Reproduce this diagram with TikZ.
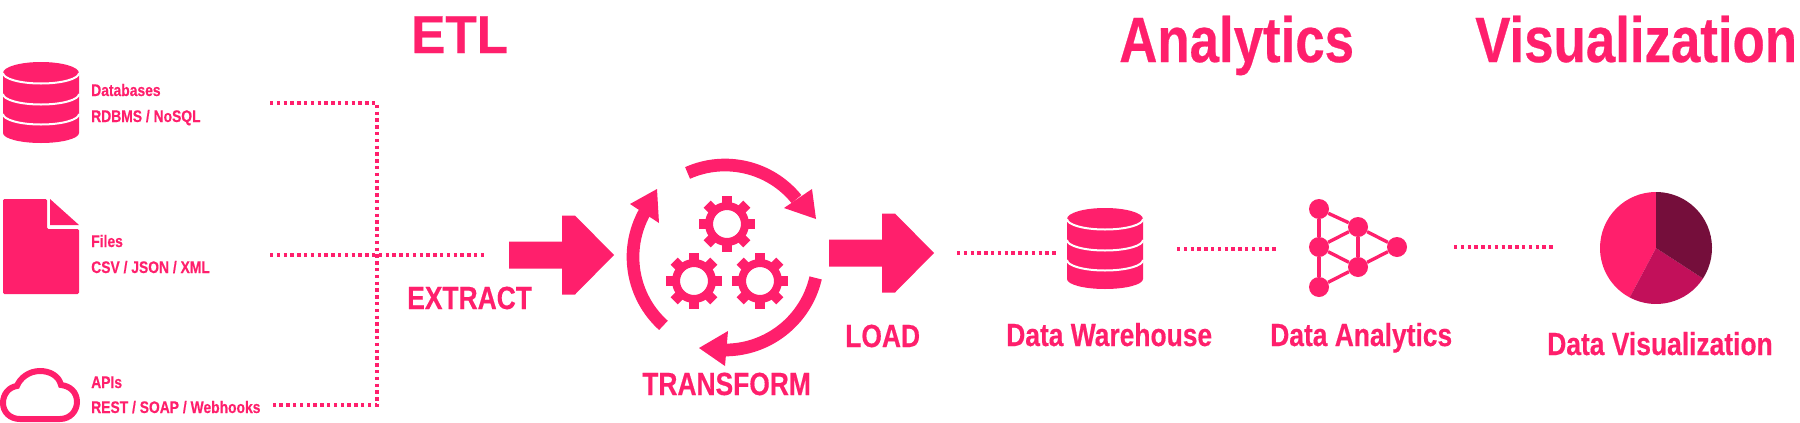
\documentclass[tikz,border=0pt]{standalone}
\usepackage{fontspec}
\newfontfamily\narrowfont[FakeStretch=0.825,BoldFeatures={FakeBold=0.4}]{Liberation Sans}
\newfontfamily\plainfont[FakeStretch=0.96,BoldFeatures={FakeBold=0.4}]{Liberation Sans}
\definecolor{hotpink}{HTML}{FF1F6C}
\definecolor{midpink}{HTML}{C2105A}
\definecolor{darkpink}{HTML}{750E3B}
\tikzset{
	small/.style={anchor=base west, inner sep=0pt, text=hotpink, font=\narrowfont\bfseries\fontsize{12.6}{14}\selectfont},
	label/.style={anchor=base west, inner sep=0pt, text=hotpink, font=\narrowfont\bfseries\fontsize{24}{28}\selectfont},
	heading/.style={anchor=base west, inner sep=0pt, text=hotpink, font=\narrowfont\bfseries\fontsize{48}{56}\selectfont},
	dots/.style={hotpink, line width=2.6pt, dash pattern=on 2.6pt off 2.5pt},
	sweep/.style={hotpink, line width=9.5pt},
	netnode/.style={circle, fill=hotpink, inner sep=0pt, minimum size=15pt},
	netline/.style={hotpink, line width=2.5pt}
}
% x, y of the top left corner
\newcommand{\dbicon}[2]{
	\fill [hotpink] (#1,#2+11) -- (#1,#2+71) arc [start angle=180, end angle=360, x radius=38, y radius=-10] -- (#1+76,#2+11) arc [start angle=0, end angle=180, x radius=38, y radius=-11] -- cycle;
	\foreach \dy in {11,32,52}
		\draw [white, line width=1.5pt] (#1,#2+\dy) arc [start angle=180, end angle=360, x radius=38, y radius=-10.5];
}
\newcommand{\gearicon}[2]{
	\draw [hotpink, line width=6pt] (#1,#2) circle [radius=18];
	\foreach \a in {0,45,...,315}
		\fill [hotpink, shift={(#1,#2)}, rotate=\a] (-5,20) rectangle (5,28);
}
\newcommand{\blockarrow}[2]{
	\fill [hotpink] (#1,#2-13.5) -- (#1+53,#2-13.5) -- (#1+53,#2-39.5) -- (#1+66,#2-39.5) -- (#1+105,#2) -- (#1+66,#2+39.5) -- (#1+53,#2+39.5) -- (#1+53,#2+13.5) -- (#1,#2+13.5) -- cycle;
}

\begin{document}
\begin{tikzpicture}[x=0.75pt, y=-0.75pt]
	\useasboundingbox (0,0) rectangle (1800,422);
	%
	\node [heading, font=\plainfont\bfseries\fontsize{40}{46}\selectfont] (etl) at (411,53) {ETL};
	\node [heading] (analytics) at (1119,62) {Analytics};
	\node [heading] (visualization) at (1475,62) {Visualization};
	%
	\dbicon{3}{62}
	\node [small] (db1) at (91,96) {Databases};
	\node [small] (db2) at (91,122) {RDBMS / NoSQL};
	%
	\fill [hotpink, rounded corners=1pt] (3,199) -- (47,199) -- (47,229) -- (79,229) -- (79,294) -- (3,294) -- cycle;
	\fill [hotpink] (50,199) -- (79,225) -- (50,225) -- cycle;
	\node [small] (files1) at (91,247) {Files};
	\node [small] (files2) at (91,273) {CSV / JSON / XML};
	%
	\draw [hotpink, line width=4.5pt] (20,419) -- (60,419) .. controls (70,419) and (77,411) .. (77,402) .. controls (77,392) and (70,386) .. (61,385) .. controls (59,376) and (50,371) .. (40,371) .. controls (29,371) and (20,378) .. (17,386) .. controls (9,387) and (3,394) .. (3,403) .. controls (3,412) and (10,419) .. (20,419) -- cycle;
	\node [small] (api1) at (91,388) {APIs};
	\node [small] (api2) at (91,413) {REST / SOAP / Webhooks};
	%
	\coordinate (t1) at (270,103);
	\coordinate (t2) at (377,103);
	\coordinate (m1) at (270,255);
	\coordinate (m2) at (485,255);
	\coordinate (b1) at (273,405);
	\coordinate (b2) at (377,405);
	\draw [dots] (t1) -- (t2) -- (b2) -- (b1);
	\draw [dots] (m1) -- (m2);
	%
	\blockarrow{509}{255}
	\node [label] (extract) at (407,309) {EXTRACT};
	%
	\coordinate (cc) at (725,257);
	\draw [sweep] (cc) ++(-114:92) arc [start angle=-114, end angle=-39, radius=92];
	\fill [hotpink] (816,219) -- (784,208) -- (812,189) -- cycle;
	\draw [sweep] (cc) ++(13:93) arc [start angle=13, end angle=90, radius=93];
	\fill [hotpink] (699,348) -- (728,331) -- (725,366) -- cycle;
	\draw [sweep] (cc) ++(-228:92) arc [start angle=-228, end angle=-151, radius=92];
	\fill [hotpink] (657,189) -- (630,204) -- (659,223) -- cycle;
	\gearicon{727}{224}
	\gearicon{694}{281}
	\gearicon{760}{281}
	\node [label] (transform) at (642,395) {TRANSFORM};
	%
	\blockarrow{829}{253}
	\node [label] (load) at (845,347) {LOAD};
	%
	\dbicon{1067}{208}
	\node [label] (warehouse) at (1006,346) {Data Warehouse};
	%
	\node [netnode] (n1) at (1319,209) {};
	\node [netnode] (n2) at (1358,227) {};
	\node [netnode] (n3) at (1319,247) {};
	\node [netnode] (n4) at (1397,247) {};
	\node [netnode] (n5) at (1358,267) {};
	\node [netnode] (n6) at (1319,287) {};
	\draw [netline] (n1) -- (n3);
	\draw [netline] (n3) -- (n6);
	\draw [netline] (n1) -- (n2);
	\draw [netline] (n2) -- (n3);
	\draw [netline] (n3) -- (n5);
	\draw [netline] (n2) -- (n5);
	\draw [netline] (n2) -- (n4);
	\draw [netline] (n4) -- (n5);
	\draw [netline] (n5) -- (n6);
	\node [label] (analytic) at (1270,346) {Data Analytics};
	%
	\coordinate (pc) at (1656,248);
	\fill [hotpink] (pc) ++(-90:56) arc [start angle=-90, end angle=-242, radius=56] -- (pc) -- cycle;
	\fill [midpink] (pc) ++(-242:56) arc [start angle=-242, end angle=-327, radius=56] -- (pc) -- cycle;
	\fill [darkpink] (pc) ++(33:56) arc [start angle=33, end angle=-90, radius=56] -- (pc) -- cycle;
	\node [label] (visual) at (1547,355) {Data Visualization};
	%
	\coordinate (w1) at (957,253);
	\coordinate (w2) at (1057,253);
	\coordinate (a1) at (1177,249);
	\coordinate (a2) at (1276,249);
	\coordinate (v1) at (1454,247);
	\coordinate (v2) at (1553,247);
	\draw [dots] (w1) -- (w2);
	\draw [dots] (a1) -- (a2);
	\draw [dots] (v1) -- (v2);
\end{tikzpicture}
\end{document}
